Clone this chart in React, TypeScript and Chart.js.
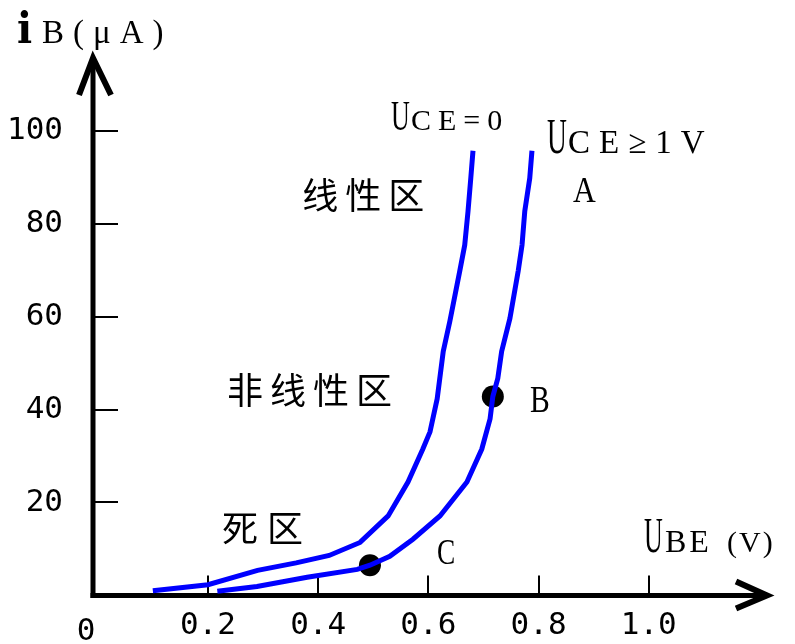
import React, { useEffect, useRef } from "react";
import { Chart, registerables } from "chart.js";

Chart.register(...registerables);

// U_BE (V) for the U_CE = 0 curve
const vbeUce0 = [0.1, 0.2, 0.29, 0.36, 0.42, 0.476, 0.527, 0.563, 0.59, 0.603, 0.616, 0.627, 0.639, 0.657, 0.666, 0.672, 0.677, 0.681];
// i_B (µA) for the U_CE = 0 curve
const ibUce0 = [1.0, 2.3, 5.4, 7.0, 8.6, 11.4, 17.1, 24.4, 31.5, 35.2, 42.3, 52.5, 59.0, 69.8, 75.4, 82.7, 89.8, 95.7];

// U_BE (V) for the U_CE >= 1V curve
const vbeUce1 = [0.217, 0.289, 0.38, 0.471, 0.494, 0.53, 0.572, 0.621, 0.67, 0.697, 0.712, 0.717, 0.726, 0.733, 0.748, 0.763, 0.77, 0.775, 0.784, 0.788];
// i_B (µA) for the U_CE >= 1V curve
const ibUce1 = [0.9, 1.9, 3.9, 5.6, 6.5, 8.4, 12.1, 17.1, 24.4, 31.5, 38.0, 42.8, 46.7, 52.5, 59.6, 69.8, 75.4, 82.7, 89.8, 95.7];

// marked operating points B and C
const pointLabels = ["B", "C"];
const pointVbe = [0.717, 0.494];
const pointIb = [42.8, 6.5];

const xTickValues = [0.2, 0.4, 0.6, 0.8, 1.0];
const yTickValues = [20, 40, 60, 80, 100];

const X_MIN = -0.0086;
const X_MAX = 1.22;
const Y_MIN = 0;
const Y_MAX = 116.3;

const SERIF = '"Liberation Serif", "DejaVu Serif", serif';
const TICK_FONT = '"DejaVu Sans Mono", monospace';
const CJK = '"Noto Sans CJK SC", sans-serif';

type Note = {
  text: string;
  x: number;
  y: number;
  size: number;
  family: string;
  weight?: string;
  ls?: number;
  sx?: number;
  baseline?: CanvasTextBaseline;
  align?: CanvasTextAlign;
};

// text annotations, placed in data coordinates
const notes: Note[] = [
  { text: "i", x: -0.1466, y: 118.9, size: 42, family: '"DejaVu Serif", serif', weight: "bold", sx: 0.95 },
  { text: "B(μA)", x: -0.1012, y: 118.9, size: 33, family: SERIF, ls: 9 },
  { text: "U", x: 0.5322, y: 100.2, size: 42, family: SERIF, sx: 0.62 },
  { text: "CE=0", x: 0.5685, y: 100.2, size: 30, family: SERIF, ls: 7 },
  { text: "U", x: 0.8153, y: 95.3, size: 50, family: SERIF, sx: 0.55 },
  { text: "CE≥1V", x: 0.8535, y: 95.3, size: 33, family: SERIF, ls: 9 },
  { text: "A", x: 0.8625, y: 84.7, size: 35, family: SERIF, sx: 0.9 },
  { text: pointLabels[0], x: 0.7845, y: 39.4, size: 37, family: SERIF, sx: 0.8 },
  { text: pointLabels[1], x: 0.6157, y: 6.7, size: 35, family: SERIF, sx: 0.78 },
  { text: "U", x: 0.9914, y: 9.25, size: 50, family: SERIF, sx: 0.52 },
  { text: "BE", x: 1.0295, y: 9.25, size: 32, family: SERIF, ls: 3 },
  { text: "(V)", x: 1.142, y: 9.25, size: 30, family: SERIF, ls: 2 },
  { text: "0", x: -0.0213, y: -9.7, size: 31, family: TICK_FONT, align: "center" },
  { text: "线性区", x: 0.3711, y: 86.0, size: 36, family: CJK, ls: 7, baseline: "middle" },
  { text: "非线性区", x: 0.2346, y: 44.1, size: 36, family: CJK, ls: 7, baseline: "middle" },
  { text: "死区", x: 0.2255, y: 14.4, size: 36, family: CJK, ls: 9, baseline: "middle" },
];

const axesPlugin = {
  id: "axesPlugin",
  beforeDatasetsDraw(chart: any) {
    const { ctx, chartArea } = chart;
    const xs = chart.scales.x;
    const ys = chart.scales.y;
    const ox = xs.left;
    const oy = ys.getPixelForValue(0);
    ctx.save();
    ctx.strokeStyle = "#000";
    ctx.lineCap = "butt";
    // tick marks, drawn inward
    ctx.lineWidth = 2;
    yTickValues.forEach((v) => {
      const py = Math.round(ys.getPixelForValue(v));
      ctx.beginPath();
      ctx.moveTo(ox, py);
      ctx.lineTo(ox + 25, py);
      ctx.stroke();
    });
    xTickValues.forEach((v) => {
      const px = Math.round(xs.getPixelForValue(v));
      ctx.beginPath();
      ctx.moveTo(px, oy);
      ctx.lineTo(px, oy - 20);
      ctx.stroke();
    });
    // axis lines
    ctx.lineWidth = 5;
    ctx.beginPath();
    ctx.moveTo(ox, oy + 2.5);
    ctx.lineTo(ox, chartArea.top + 4);
    ctx.stroke();
    ctx.beginPath();
    ctx.moveTo(ox - 2.5, oy);
    ctx.lineTo(chartArea.right - 4, oy);
    ctx.stroke();
    // arrow heads
    ctx.lineWidth = 6;
    ctx.lineJoin = "miter";
    ctx.beginPath();
    ctx.moveTo(ox - 14, chartArea.top + 40);
    ctx.lineTo(ox, chartArea.top + 3);
    ctx.lineTo(ox + 18, chartArea.top + 40);
    ctx.stroke();
    ctx.beginPath();
    ctx.moveTo(chartArea.right - 34, oy - 14);
    ctx.lineTo(chartArea.right - 3, oy);
    ctx.lineTo(chartArea.right - 34, oy + 13);
    ctx.stroke();
    ctx.restore();
  },
  afterDatasetsDraw(chart: any) {
    const { ctx } = chart;
    const xs = chart.scales.x;
    const ys = chart.scales.y;
    ctx.save();
    ctx.fillStyle = "#000";
    notes.forEach((n) => {
      ctx.save();
      ctx.font = `${n.weight || "normal"} ${n.size}px ${n.family}`;
      (ctx as any).letterSpacing = `${n.ls || 0}px`;
      ctx.textAlign = n.align || "left";
      ctx.textBaseline = n.baseline || "alphabetic";
      ctx.translate(xs.getPixelForValue(n.x), ys.getPixelForValue(n.y));
      ctx.scale(n.sx || 1, 1);
      ctx.fillText(n.text, 0, 0);
      ctx.restore();
    });
    ctx.restore();
  },
};

export default function App() {
  const ref = useRef<HTMLCanvasElement | null>(null);
  useEffect(() => {
    if (!ref.current) return;
    const chart = new Chart(ref.current, {
      type: "scatter",
      data: {
        datasets: [
          {
            label: "UCE=0",
            data: vbeUce0.map((v, i) => ({ x: v, y: ibUce0[i] })),
            showLine: true,
            borderColor: "#0000ff",
            borderWidth: 5,
            pointRadius: 0,
            tension: 0,
            clip: false as any,
          },
          {
            label: "UCE≥1V",
            data: vbeUce1.map((v, i) => ({ x: v, y: ibUce1[i] })),
            showLine: true,
            borderColor: "#0000ff",
            borderWidth: 5,
            pointRadius: 0,
            tension: 0,
            clip: false as any,
          },
          {
            label: "points",
            data: pointVbe.map((v, i) => ({ x: v, y: pointIb[i] })),
            showLine: false,
            pointRadius: 11,
            pointBackgroundColor: "#000",
            pointBorderColor: "#000",
            pointBorderWidth: 0,
          },
        ],
      },
      options: {
        animation: false,
        responsive: false,
        events: [],
        layout: { padding: { left: 0, top: 55, right: 25, bottom: 0 } },
        plugins: { legend: { display: false }, tooltip: { enabled: false } },
        scales: {
          x: {
            type: "linear",
            min: X_MIN,
            max: X_MAX,
            grid: { display: false, drawTicks: false },
            border: { display: false },
            ticks: {
              color: "#000",
              font: { family: TICK_FONT, size: 31 },
              padding: 12,
              maxRotation: 0,
              autoSkip: false,
              callback: (v: any) => Number(v).toFixed(1),
            },
            afterBuildTicks: (s: any) => {
              s.ticks = xTickValues.map((v) => ({ value: v }));
            },
            afterFit: (s: any) => {
              s.height = 48;
            },
          },
          y: {
            type: "linear",
            min: Y_MIN,
            max: Y_MAX,
            grid: { display: false, drawTicks: false },
            border: { display: false },
            ticks: {
              color: "#000",
              font: { family: TICK_FONT, size: 31 },
              padding: 30,
              autoSkip: false,
              callback: (v: any) => String(v),
            },
            afterBuildTicks: (s: any) => {
              s.ticks = yTickValues.map((v) => ({ value: v }));
            },
            afterFit: (s: any) => {
              s.width = 93;
            },
          },
        },
      },
      plugins: [axesPlugin],
    });
    return () => chart.destroy();
  }, []);
  return (
    <div style={{ position: "fixed", left: 0, top: 0, width: 795, height: 644, background: "#fff" }}>
      <canvas ref={ref} width={795} height={644} style={{ display: "block" }} />
    </div>
  );
}
